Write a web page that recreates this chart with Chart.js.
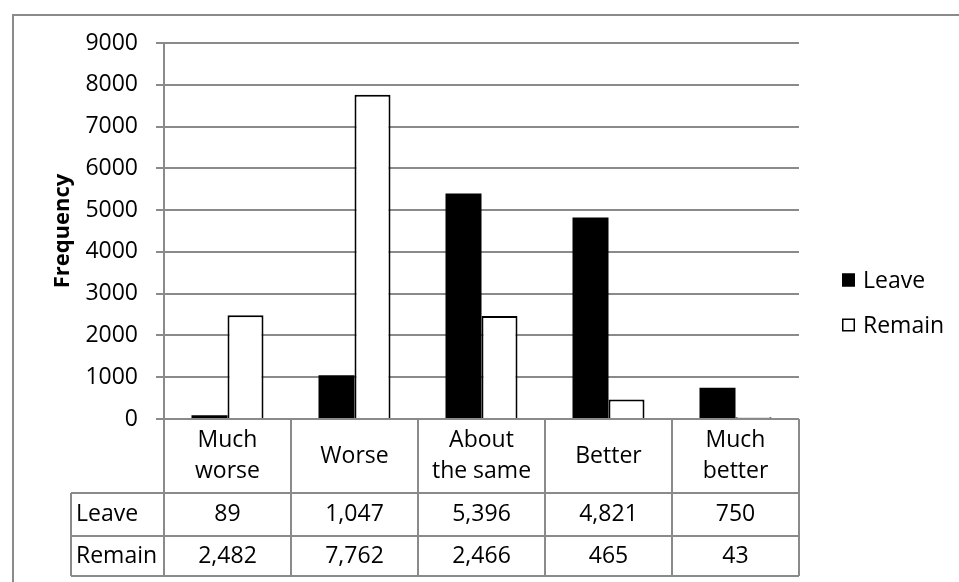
<!DOCTYPE html>
<html>
<head>
<meta charset="utf-8">
<script src="https://cdn.jsdelivr.net/npm/chart.js@4"></script>
<style>
  html, body { margin: 0; padding: 0; background: #fff; }
  canvas { display: block; }
</style>
</head>
<body>
<canvas id="chart" width="959" height="582"></canvas>
<script>
// Response categories and counts per group
const categories = [['Much', 'worse'], 'Worse', ['About', 'the same'], 'Better', ['Much', 'better']];
const leaveValues = [89, 1047, 5396, 4821, 750];
const remainValues = [2482, 7762, 2466, 465, 43];
const seriesNames = ['Leave', 'Remain'];
const yMax = 9000;
const yStep = 1000;
const yTitle = 'Frequency';

const FONT = "'Open Sans', sans-serif";
const FONT_SIZE = 23;
const GRID = '#8a8a8a';

// Outer frame of the chart
const framePlugin = {
  id: 'frame',
  beforeDraw(chart) {
    const ctx = chart.ctx;
    ctx.save();
    ctx.fillStyle = '#fff';
    ctx.fillRect(0, 0, chart.width, chart.height);
    ctx.strokeStyle = GRID;
    ctx.lineWidth = 2;
    ctx.strokeRect(13, 15, chart.width + 20, chart.height + 20);
    ctx.restore();
  }
};

// Data table beneath the plot: category headers plus one row per series
const tablePlugin = {
  id: 'dataTable',
  afterDraw(chart) {
    const ctx = chart.ctx;
    const xs = chart.scales.x;
    const area = chart.chartArea;
    const n = chart.data.labels.length;
    const w = (area.right - area.left) / n;
    const top = area.bottom;
    const headBottom = top + 74;
    const rowH = [43, 40];
    const rowTops = [headBottom, headBottom + rowH[0]];
    const bottom = headBottom + rowH[0] + rowH[1];
    const leftCol = 71;

    ctx.save();
    ctx.strokeStyle = GRID;
    ctx.lineWidth = 2;
    ctx.beginPath();
    for (let i = 0; i < n; i++) {
      const c = xs.getPixelForValue(i);
      const l = c - w / 2, r = c + w / 2;
      ctx.moveTo(l, top); ctx.lineTo(l, bottom);
      if (i === n - 1) { ctx.moveTo(r, top); ctx.lineTo(r, bottom); }
    }
    ctx.moveTo(leftCol, headBottom); ctx.lineTo(leftCol, bottom);
    [headBottom, rowTops[1], bottom].forEach(y => {
      ctx.moveTo(leftCol, y); ctx.lineTo(area.right, y);
    });
    ctx.stroke();

    ctx.fillStyle = '#000';
    ctx.font = FONT_SIZE + 'px ' + FONT;
    ctx.textBaseline = 'middle';

    // Category headers
    ctx.textAlign = 'center';
    chart.data.labels.forEach((lab, i) => {
      const c = xs.getPixelForValue(i);
      const lines = Array.isArray(lab) ? lab : [lab];
      const lh = 31;
      const mid = (top + headBottom) / 2;
      lines.forEach((t, k) => {
        ctx.fillText(t, c, mid + (k - (lines.length - 1) / 2) * lh);
      });
    });

    // Series rows
    chart.data.datasets.forEach((ds, r) => {
      const yMid = rowTops[r] + rowH[r] / 2;
      ctx.textAlign = 'left';
      ctx.fillText(ds.label, leftCol + 5, yMid);
      ctx.textAlign = 'center';
      ds.data.forEach((v, i) => {
        ctx.fillText(v.toLocaleString('en-US'), xs.getPixelForValue(i), yMid);
      });
    });
    ctx.restore();
  }
};

// Legend to the right of the plot
const legendPlugin = {
  id: 'sideLegend',
  afterDraw(chart) {
    const ctx = chart.ctx;
    const x0 = 842, y0 = 280, gap = 45, box = 13;
    ctx.save();
    ctx.font = FONT_SIZE + 'px ' + FONT;
    ctx.textBaseline = 'middle';
    ctx.textAlign = 'left';
    chart.data.datasets.forEach((ds, i) => {
      const y = y0 + i * gap;
      ctx.fillStyle = ds.backgroundColor;
      ctx.fillRect(x0, y - box / 2, box, box);
      ctx.strokeStyle = '#000';
      ctx.lineWidth = 1.5;
      ctx.strokeRect(x0 + 0.75, y - box / 2 + 0.75, box - 1.5, box - 1.5);
      ctx.fillStyle = '#000';
      ctx.fillText(ds.label, x0 + box + 8, y + 1);
    });
    ctx.restore();
  }
};

new Chart(document.getElementById('chart'), {
  type: 'bar',
  data: {
    labels: categories,
    datasets: [
      {
        label: seriesNames[0],
        data: leaveValues,
        backgroundColor: '#000000',
        borderWidth: 0
      },
      {
        label: seriesNames[1],
        data: remainValues,
        backgroundColor: '#ffffff',
        borderColor: '#000000',
        borderWidth: 2
      }
    ]
  },
  options: {
    responsive: false,
    devicePixelRatio: 1,
    animation: false,
    categoryPercentage: 0.567,
    barPercentage: 1,
    layout: { padding: { left: 40, top: 43, right: 160, bottom: 163 } },
    plugins: {
      legend: { display: false },
      tooltip: { enabled: false }
    },
    scales: {
      x: { display: false },
      y: {
        min: 0,
        max: yMax,
        afterFit(scale) { scale.width = 124; },
        ticks: {
          stepSize: yStep,
          padding: 18,
          color: '#000',
          font: { family: FONT, size: FONT_SIZE },
          callback: v => String(v)
        },
        grid: { color: GRID, lineWidth: 2, tickLength: 8, drawTicks: true },
        border: { display: true, color: GRID, width: 2 },
        title: {
          display: true,
          text: yTitle,
          color: '#000',
          font: { family: FONT, size: 22, weight: 'bold' },
          padding: { top: 10, bottom: 0 }
        }
      }
    }
  },
  plugins: [framePlugin, tablePlugin, legendPlugin]
});
</script>
</body>
</html>
